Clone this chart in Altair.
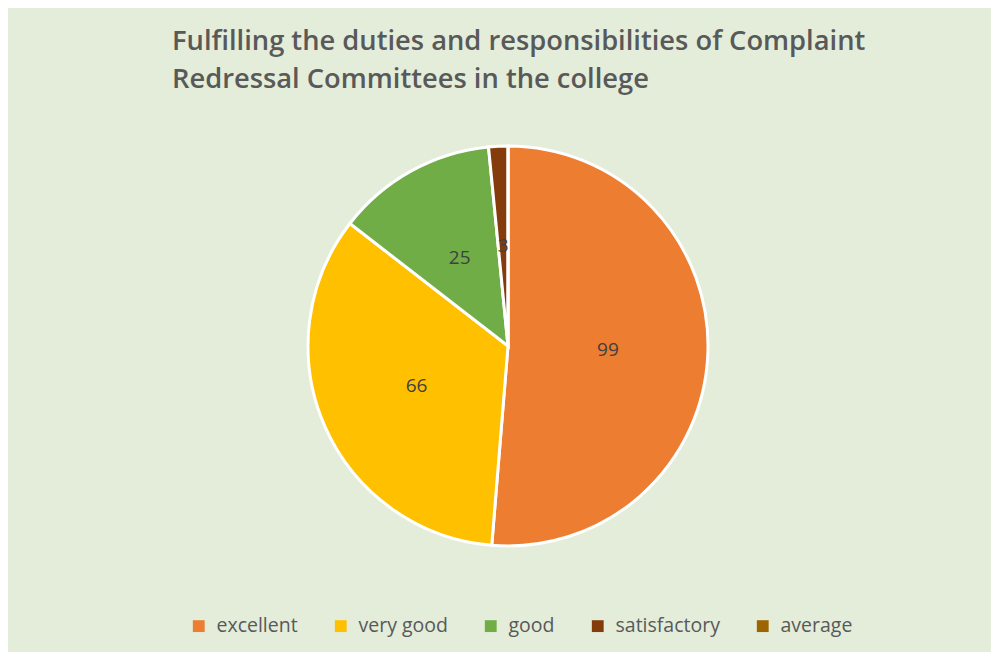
import altair as alt
import pandas as pd

categories = ["excellent", "very good", "good", "satisfactory", "average"]
values = [99, 66, 25, 3, 0]
colors = ["#ED7D31", "#FFC000", "#70AD47", "#843C0C", "#9C6500"]

df = pd.DataFrame({"category": categories, "value": values, "order": list(range(len(categories)))})

W, H = 983, 644
CX, CY = 500, 338

base = alt.Chart(df).encode(
    theta=alt.Theta("value:Q", stack=True),
    order=alt.Order("order:Q"),
)

color = alt.Color(
    "category:N",
    scale=alt.Scale(domain=categories, range=colors),
    sort=categories,
    legend=alt.Legend(
        title=None,
        orient="none",
        legendX=181,
        legendY=608,
        direction="horizontal",
        symbolType="square",
        symbolSize=140,
        symbolStrokeWidth=0,
        labelFontSize=19.5,
        labelFont="Open Sans",
        labelColor="#595959",
        columnPadding=33,
        labelOffset=8,
    ),
)

pie = base.mark_arc(outerRadius=200, stroke="white", strokeWidth=3).encode(
    color=color,
    x=alt.value(CX),
    y=alt.value(CY),
)

labels = base.mark_text(radius=100, fontSize=19, font="Open Sans", color="#404040").encode(
    text=alt.Text("value:Q"),
    x=alt.value(CX),
    y=alt.value(CY),
    opacity=alt.condition(alt.datum.value > 0, alt.value(1), alt.value(0)),
)

chart = (
    alt.layer(pie, labels)
    .properties(
        width=W,
        height=H,
        autosize=alt.AutoSizeParams(type="none"),
        padding=0,
        background="#E3EDDA",
        title=alt.TitleParams(
            text=["Fulfilling the duties and responsibilities of Complaint",
                  "Redressal Committees in the college"],
            anchor="start",
            orient="top",
            baseline="alphabetic",
            offset=0,
            dx=164,
            dy=107,
            font="Open Sans",
            fontSize=27.3,
            fontWeight=600,
            color="#595959",
            lineHeight=38,
        ),
    )
    .configure_view(stroke=None)
)

chart.save("out.html", embed_options={"renderer": "svg", "actions": False})
